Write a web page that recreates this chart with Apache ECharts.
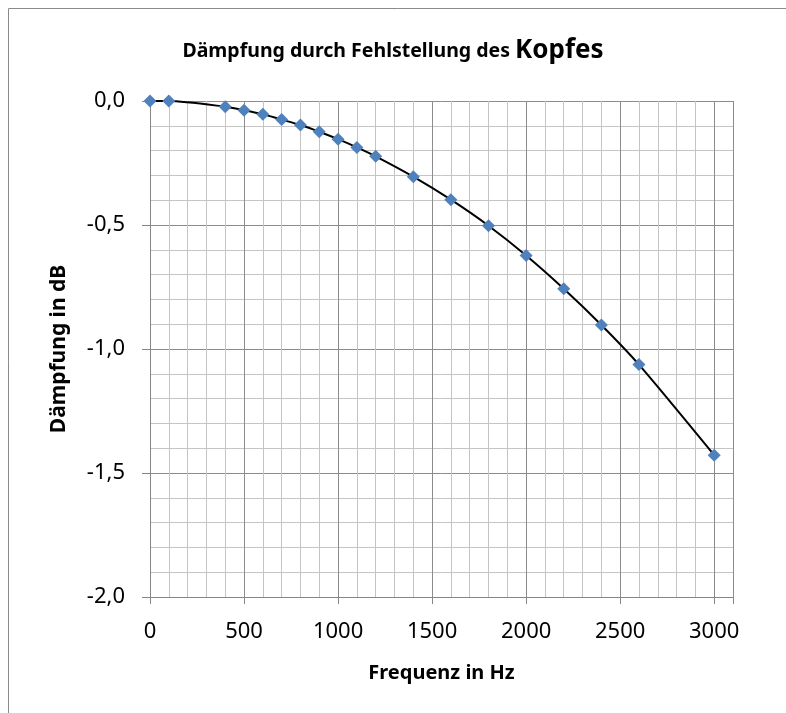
<!DOCTYPE html>
<html>
<head>
<meta charset="utf-8">
<script src="https://cdn.jsdelivr.net/npm/echarts@6/dist/echarts.min.js"></script>
<style>html,body{margin:0;padding:0;background:#fff;}#c{width:786px;height:713px;}</style>
</head>
<body>
<div id="c"></div>
<script>
const frequencies = [0, 100, 400, 500, 600, 700, 800, 900, 1000, 1100, 1200, 1400, 1600, 1800, 2000, 2200, 2400, 2600, 3000];
const attenuation = [0, 0, -0.023, -0.037, -0.053, -0.075, -0.097, -0.124, -0.154, -0.187, -0.223, -0.305, -0.398, -0.503, -0.623, -0.757, -0.903, -1.063, -1.428];
const titleMain = 'Dämpfung durch Fehlstellung des ';
const titleBig = 'Kopfes';
const xName = 'Frequenz in Hz';
const yName = 'Dämpfung in dB';

const FONT = '"Noto Sans", "Open Sans", sans-serif';
const chart = echarts.init(document.getElementById('c'), null, {renderer: 'canvas'});
const pts = frequencies.map((f, i) => [f, attenuation[i]]);
chart.setOption({
  animation: false,
  backgroundColor: '#fff',
  graphic: [{
    type: 'rect', shape: {x: 8.5, y: 8.5, width: 900, height: 900},
    style: {fill: 'none', stroke: '#8a8a8a', lineWidth: 1}, silent: true, z: -10
  }],
  title: {
    text: '{a|' + titleMain + '}{b|' + titleBig + '}',
    left: 'center', top: 33,
    textStyle: {
      rich: {
        a: {fontFamily: FONT, fontWeight: 'bold', fontSize: 19.5, color: '#000'},
        b: {fontFamily: FONT, fontWeight: 'bold', fontSize: 26, color: '#000'}
      }
    }
  },
  grid: {left: 150, top: 101, right: 53, bottom: 116, containLabel: false},
  xAxis: {
    type: 'value', min: 0, max: 3100, interval: 500,
    name: xName, nameLocation: 'middle', nameGap: 66,
    nameTextStyle: {fontFamily: FONT, fontWeight: 'bold', fontSize: 20, color: '#000'},
    axisLine: {show: true, onZero: false, lineStyle: {color: '#868686', width: 1}},
    axisTick: {show: true, inside: false, length: 7, lineStyle: {color: '#868686'}},
    axisLabel: {fontFamily: FONT, fontSize: 22, color: '#000', margin: 24,
      formatter: v => (v > 3000 ? '' : String(v))},
    splitLine: {show: true, lineStyle: {color: '#8c8c8c', width: 1}},
    minorTick: {show: false, splitNumber: 5},
    minorSplitLine: {show: true, lineStyle: {color: '#c4c4c4', width: 1}}
  },
  yAxis: {
    type: 'value', min: -2, max: 0, interval: 0.5,
    name: yName, nameLocation: 'middle', nameGap: 80, nameRotate: 90,
    nameTextStyle: {fontFamily: FONT, fontWeight: 'bold', fontSize: 21, color: '#000'},
    axisLine: {show: true, onZero: false, lineStyle: {color: '#868686', width: 1}},
    axisTick: {show: true, inside: false, length: 8, lineStyle: {color: '#868686'}},
    axisLabel: {fontFamily: FONT, fontSize: 22, color: '#000', margin: 25,
      formatter: v => v.toFixed(1).replace('.', ',')},
    splitLine: {show: true, lineStyle: {color: '#8c8c8c', width: 1}},
    minorTick: {show: false, splitNumber: 5},
    minorSplitLine: {show: true, lineStyle: {color: '#c4c4c4', width: 1}}
  },
  series: [{
    type: 'line', data: pts, smooth: 0.25,
    lineStyle: {color: '#000', width: 2},
    symbol: 'diamond', symbolSize: 13,
    itemStyle: {color: '#4f81bd'},
    z: 5
  }]
});
</script>
</body>
</html>
